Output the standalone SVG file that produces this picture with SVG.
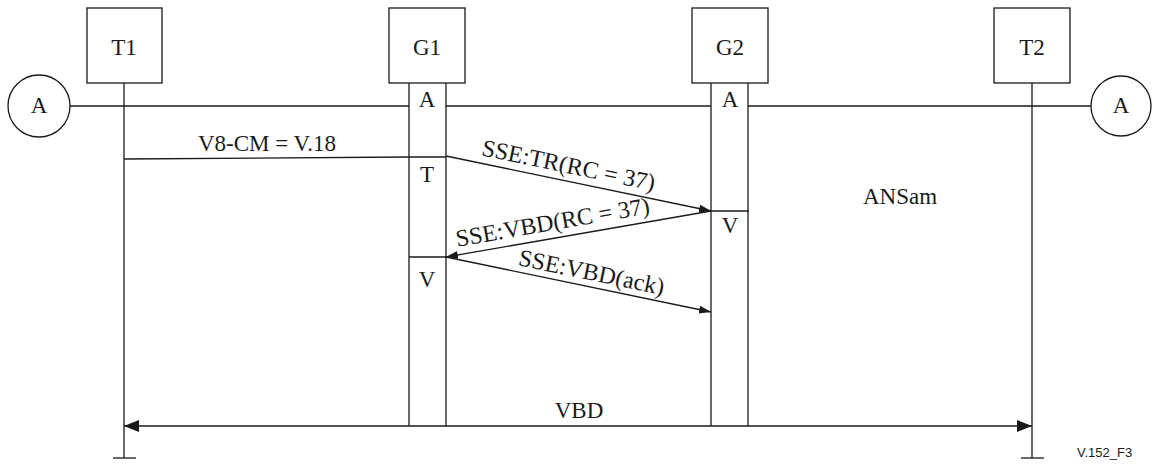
<svg xmlns="http://www.w3.org/2000/svg" width="1152" height="464" viewBox="0 0 1152 464">
<style>
.ln{stroke:#1a1a1a;stroke-width:1.3;fill:none}
.box{stroke:#1a1a1a;stroke-width:1.3;fill:#fff}
.t{font-size:23px;fill:#1a1a1a;text-anchor:middle}
.m{font-size:24px;fill:#1a1a1a;text-anchor:middle}
.s{font-family:'Liberation Sans',Arial,sans-serif;font-size:13px;fill:#1a1a1a}
</style>
<defs>
<marker id="ah" viewBox="0 0 12 8" refX="12" refY="4" markerWidth="12" markerHeight="8" markerUnits="userSpaceOnUse" orient="auto">
<path d="M0,0 L12,4 L0,8 Z" fill="#1a1a1a"/>
</marker>
<marker id="bh" viewBox="0 0 15 12" refX="15" refY="6" markerWidth="15" markerHeight="12" markerUnits="userSpaceOnUse" orient="auto-start-reverse">
<path d="M0,0 L15,6 L0,12 Z" fill="#1a1a1a"/>
</marker>
</defs>
<rect width="1152" height="464" fill="#fff"/>
<g font-family="'Liberation Serif', 'DejaVu Serif', serif">
<g id="T1">
<rect class="box" x="87" y="8" width="75" height="75"/>
<text class="t" x="124" y="55">T1</text>
<line class="ln" x1="124" y1="83" x2="124" y2="458"/>
<line class="ln" x1="113" y1="458" x2="136" y2="458" stroke-width="2"/>
</g>
<g id="G1">
<rect class="box" x="389" y="8" width="76" height="75"/>
<text class="t" x="427" y="55">G1</text>
<line class="ln" x1="409" y1="83" x2="409" y2="426"/>
<line class="ln" x1="446" y1="83" x2="446" y2="426"/>
<text class="t" x="427" y="107">A</text>
<text class="t" x="427" y="182">T</text>
<text class="t" x="427" y="287">V</text>
</g>
<g id="G2">
<rect class="box" x="692" y="8" width="76" height="75"/>
<text class="t" x="730" y="55">G2</text>
<line class="ln" x1="711" y1="83" x2="711" y2="426"/>
<line class="ln" x1="748" y1="83" x2="748" y2="426"/>
<text class="t" x="730" y="107">A</text>
<text class="t" x="730" y="233">V</text>
</g>
<g id="T2">
<rect class="box" x="994" y="8" width="76" height="75"/>
<text class="t" x="1032" y="55">T2</text>
<line class="ln" x1="1032" y1="83" x2="1032" y2="458"/>
<line class="ln" x1="1021" y1="458" x2="1044" y2="458" stroke-width="2"/>
</g>
<g id="A-left">
<circle class="box" cx="39" cy="106" r="31"/>
<text class="t" x="39" y="113">A</text>
</g>
<g id="A-right">
<circle class="box" cx="1121" cy="106" r="30"/>
<text class="t" x="1121" y="113">A</text>
</g>
<text class="t" x="900" y="204">ANSam</text>

<g id="connectors">
<line class="ln" x1="70" y1="106" x2="409" y2="106"/>
<line class="ln" x1="446" y1="106" x2="711" y2="106"/>
<line class="ln" x1="748" y1="106" x2="1091" y2="106"/>
<line class="ln" x1="124" y1="159" x2="409" y2="157"/>
<line class="ln" x1="409" y1="157" x2="446" y2="157"/>
<text class="t" x="267" y="151">V8-CM = V.18</text>
<line class="ln" x1="446" y1="156" x2="711" y2="211" marker-end="url(#ah)"/>
<line class="ln" x1="711" y1="211" x2="749" y2="211" stroke-width="2.5"/>
<text class="m" transform="translate(567,173) rotate(11.7)">SSE:TR(RC = 37)</text>
<line class="ln" x1="711" y1="211" x2="446" y2="257" marker-end="url(#ah)"/>
<line class="ln" x1="409" y1="257" x2="446" y2="257" stroke-width="1.8"/>
<text class="m" transform="translate(554,230) rotate(-9.85)">SSE:VBD(RC = 37)</text>
<line class="ln" x1="446" y1="257" x2="711" y2="312" marker-end="url(#ah)"/>
<text class="m" transform="translate(590,280) rotate(11.7)">SSE:VBD(ack)</text>
<line class="ln" x1="124" y1="426" x2="1032" y2="426" stroke-width="2.5" marker-start="url(#bh)" marker-end="url(#bh)"/>
<text class="t" x="579" y="418">VBD</text>
</g>
</g>
<text class="s" x="1077" y="457">V.152_F3</text>
</svg>
